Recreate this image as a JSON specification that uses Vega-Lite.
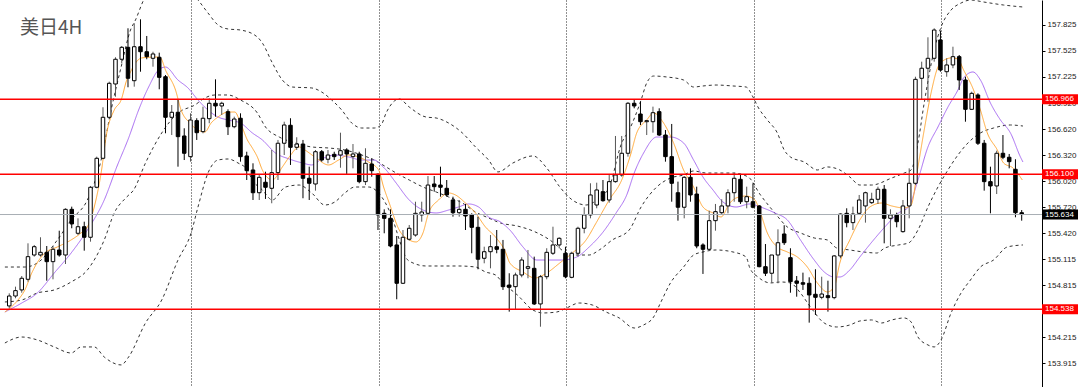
{
"$schema":"https://vega.github.io/schema/vega-lite/v6.json",
"width":1042,"height":387,"autosize":"none",
"padding":{"left":0,"right":38,"top":0,"bottom":0},
"background":"white",
"title":{"text":"美日4H","anchor":"start","frame":"group","dx":20,"dy":42,"fontSize":19,"font":"Noto Sans CJK SC","fontWeight":"normal","color":"#555555"},
"config":{"view":{"stroke":null}},
"datasets":{
"candles":[
{"i":0,"o":154.577,"h":154.723,"l":154.550,"c":154.692},
{"i":1,"o":154.692,"h":154.800,"l":154.666,"c":154.754},
{"i":2,"o":154.762,"h":154.923,"l":154.730,"c":154.897},
{"i":3,"o":154.885,"h":155.301,"l":154.858,"c":155.147},
{"i":4,"o":155.166,"h":155.282,"l":155.147,"c":155.262},
{"i":5,"o":155.166,"h":155.371,"l":155.147,"c":155.197},
{"i":6,"o":155.197,"h":155.270,"l":154.869,"c":155.089},
{"i":7,"o":155.089,"h":155.270,"l":154.885,"c":155.232},
{"i":8,"o":155.224,"h":155.447,"l":155.147,"c":155.166},
{"i":9,"o":155.166,"h":155.706,"l":155.062,"c":155.694},
{"i":10,"o":155.694,"h":155.725,"l":155.475,"c":155.525},
{"i":11,"o":155.417,"h":155.590,"l":155.397,"c":155.493},
{"i":12,"o":155.493,"h":155.551,"l":155.216,"c":155.371},
{"i":13,"o":155.371,"h":155.964,"l":155.320,"c":155.949},
{"i":14,"o":155.949,"h":156.303,"l":155.937,"c":156.284},
{"i":15,"o":156.284,"h":156.874,"l":156.273,"c":156.758},
{"i":16,"o":156.758,"h":157.170,"l":156.735,"c":157.151},
{"i":17,"o":157.143,"h":157.452,"l":156.996,"c":157.429},
{"i":18,"o":157.429,"h":157.582,"l":157.382,"c":157.567},
{"i":19,"o":157.567,"h":157.787,"l":157.105,"c":157.209},
{"i":20,"o":157.181,"h":157.845,"l":157.112,"c":157.574},
{"i":21,"o":157.574,"h":157.891,"l":157.285,"c":157.516},
{"i":22,"o":157.516,"h":157.698,"l":157.429,"c":157.459},
{"i":23,"o":157.440,"h":157.516,"l":157.343,"c":157.490},
{"i":24,"o":157.452,"h":157.505,"l":157.082,"c":157.220},
{"i":25,"o":157.227,"h":157.247,"l":156.573,"c":156.758},
{"i":26,"o":156.758,"h":156.900,"l":156.553,"c":156.816},
{"i":27,"o":156.816,"h":156.958,"l":156.187,"c":156.534},
{"i":28,"o":156.542,"h":156.631,"l":156.264,"c":156.342},
{"i":29,"o":156.303,"h":156.804,"l":156.245,"c":156.727},
{"i":30,"o":156.719,"h":156.747,"l":156.496,"c":156.580},
{"i":31,"o":156.592,"h":156.881,"l":156.573,"c":156.747},
{"i":32,"o":156.742,"h":156.978,"l":156.689,"c":156.920},
{"i":33,"o":156.920,"h":157.197,"l":156.765,"c":156.889},
{"i":34,"o":156.889,"h":156.938,"l":156.785,"c":156.920},
{"i":35,"o":156.823,"h":156.850,"l":156.553,"c":156.649},
{"i":36,"o":156.649,"h":156.765,"l":156.631,"c":156.738},
{"i":37,"o":156.747,"h":156.804,"l":156.245,"c":156.303},
{"i":38,"o":156.311,"h":156.360,"l":156.033,"c":156.141},
{"i":39,"o":156.149,"h":156.226,"l":155.802,"c":155.886},
{"i":40,"o":155.886,"h":156.103,"l":155.802,"c":156.064},
{"i":41,"o":156.007,"h":156.129,"l":155.814,"c":155.949},
{"i":42,"o":155.937,"h":156.380,"l":155.764,"c":156.118},
{"i":43,"o":156.118,"h":156.496,"l":156.033,"c":156.458},
{"i":44,"o":156.458,"h":156.707,"l":156.322,"c":156.669},
{"i":45,"o":156.666,"h":156.747,"l":156.207,"c":156.411},
{"i":46,"o":156.411,"h":156.527,"l":156.380,"c":156.449},
{"i":47,"o":156.449,"h":156.496,"l":155.822,"c":156.053},
{"i":48,"o":156.053,"h":156.187,"l":155.802,"c":155.995},
{"i":49,"o":155.987,"h":156.380,"l":155.910,"c":156.360},
{"i":50,"o":156.360,"h":156.380,"l":156.245,"c":156.264},
{"i":51,"o":156.273,"h":156.380,"l":156.226,"c":156.322},
{"i":52,"o":156.330,"h":156.360,"l":156.264,"c":156.303},
{"i":53,"o":156.322,"h":156.580,"l":156.175,"c":156.372},
{"i":54,"o":156.380,"h":156.400,"l":156.103,"c":156.334},
{"i":55,"o":156.303,"h":156.449,"l":156.168,"c":156.334},
{"i":56,"o":156.334,"h":156.360,"l":155.995,"c":156.014},
{"i":57,"o":156.014,"h":156.400,"l":155.975,"c":156.226},
{"i":58,"o":156.218,"h":156.284,"l":156.071,"c":156.141},
{"i":59,"o":156.100,"h":156.111,"l":155.455,"c":155.629},
{"i":60,"o":155.648,"h":155.694,"l":155.417,"c":155.590},
{"i":61,"o":155.590,"h":155.694,"l":155.255,"c":155.270},
{"i":62,"o":155.282,"h":155.386,"l":154.654,"c":154.839},
{"i":63,"o":154.839,"h":155.455,"l":154.831,"c":155.371},
{"i":64,"o":155.348,"h":155.513,"l":155.332,"c":155.475},
{"i":65,"o":155.397,"h":155.782,"l":155.378,"c":155.648},
{"i":66,"o":155.629,"h":155.782,"l":155.551,"c":155.663},
{"i":67,"o":155.648,"h":156.079,"l":155.629,"c":155.975},
{"i":68,"o":155.987,"h":156.079,"l":155.898,"c":155.956},
{"i":69,"o":155.975,"h":156.187,"l":155.840,"c":155.949},
{"i":70,"o":155.937,"h":156.033,"l":155.840,"c":155.860},
{"i":71,"o":155.802,"h":155.840,"l":155.609,"c":155.655},
{"i":72,"o":155.655,"h":155.802,"l":155.609,"c":155.694},
{"i":73,"o":155.694,"h":155.756,"l":155.455,"c":155.617},
{"i":74,"o":155.629,"h":155.648,"l":155.186,"c":155.486},
{"i":75,"o":155.486,"h":155.609,"l":155.001,"c":155.117},
{"i":76,"o":155.128,"h":155.262,"l":155.070,"c":155.204},
{"i":77,"o":155.204,"h":155.397,"l":155.012,"c":155.262},
{"i":78,"o":155.262,"h":155.455,"l":155.186,"c":155.232},
{"i":79,"o":155.232,"h":155.340,"l":154.762,"c":154.800},
{"i":80,"o":154.819,"h":154.955,"l":154.511,"c":154.793},
{"i":81,"o":154.800,"h":154.962,"l":154.539,"c":154.935},
{"i":82,"o":154.935,"h":155.140,"l":154.908,"c":155.108},
{"i":83,"o":155.012,"h":155.224,"l":154.897,"c":155.031},
{"i":84,"o":155.012,"h":155.147,"l":154.588,"c":154.600},
{"i":85,"o":154.600,"h":154.935,"l":154.337,"c":154.915},
{"i":86,"o":154.915,"h":155.244,"l":154.885,"c":155.197},
{"i":87,"o":155.186,"h":155.493,"l":155.166,"c":155.282},
{"i":88,"o":155.282,"h":155.371,"l":155.244,"c":155.359},
{"i":89,"o":155.186,"h":155.262,"l":154.897,"c":154.915},
{"i":90,"o":154.908,"h":155.204,"l":154.897,"c":155.186},
{"i":91,"o":155.186,"h":155.493,"l":155.147,"c":155.475},
{"i":92,"o":155.475,"h":155.718,"l":155.417,"c":155.629},
{"i":93,"o":155.629,"h":155.995,"l":155.590,"c":155.860},
{"i":94,"o":155.744,"h":156.002,"l":155.706,"c":155.918},
{"i":95,"o":155.898,"h":156.033,"l":155.782,"c":155.794},
{"i":96,"o":155.802,"h":156.103,"l":155.771,"c":156.014},
{"i":97,"o":156.014,"h":156.542,"l":156.002,"c":156.091},
{"i":98,"o":156.091,"h":156.542,"l":156.071,"c":156.342},
{"i":99,"o":156.342,"h":156.935,"l":156.303,"c":156.920},
{"i":100,"o":156.920,"h":156.958,"l":156.862,"c":156.889},
{"i":101,"o":156.796,"h":156.938,"l":156.669,"c":156.707},
{"i":102,"o":156.707,"h":156.727,"l":156.553,"c":156.719},
{"i":103,"o":156.707,"h":156.881,"l":156.580,"c":156.811},
{"i":104,"o":156.823,"h":156.862,"l":156.542,"c":156.553},
{"i":105,"o":156.553,"h":156.611,"l":156.245,"c":156.303},
{"i":106,"o":156.303,"h":156.681,"l":155.782,"c":155.995},
{"i":107,"o":155.886,"h":156.014,"l":155.563,"c":155.718},
{"i":108,"o":155.718,"h":156.079,"l":155.590,"c":156.064},
{"i":109,"o":156.064,"h":156.168,"l":155.782,"c":155.860},
{"i":110,"o":155.871,"h":155.956,"l":155.244,"c":155.270},
{"i":111,"o":155.282,"h":155.301,"l":154.947,"c":155.232},
{"i":112,"o":155.232,"h":155.678,"l":155.216,"c":155.563},
{"i":113,"o":155.563,"h":155.756,"l":155.447,"c":155.667},
{"i":114,"o":155.655,"h":155.810,"l":155.629,"c":155.733},
{"i":115,"o":155.733,"h":155.926,"l":155.648,"c":155.886},
{"i":116,"o":155.886,"h":156.118,"l":155.782,"c":156.053},
{"i":117,"o":156.041,"h":156.103,"l":155.756,"c":155.782},
{"i":118,"o":155.782,"h":155.956,"l":155.706,"c":155.840},
{"i":119,"o":155.782,"h":155.995,"l":155.706,"c":155.718},
{"i":120,"o":155.733,"h":155.744,"l":155.024,"c":155.031},
{"i":121,"o":155.031,"h":155.293,"l":154.923,"c":154.955},
{"i":122,"o":154.955,"h":155.166,"l":154.846,"c":155.166},
{"i":123,"o":155.166,"h":155.463,"l":154.839,"c":155.308},
{"i":124,"o":155.409,"h":155.510,"l":155.282,"c":155.308},
{"i":125,"o":155.135,"h":155.244,"l":154.730,"c":154.858},
{"i":126,"o":154.866,"h":154.923,"l":154.684,"c":154.839},
{"i":127,"o":154.846,"h":154.962,"l":154.762,"c":154.828},
{"i":128,"o":154.839,"h":154.908,"l":154.384,"c":154.704},
{"i":129,"o":154.712,"h":155.001,"l":154.473,"c":154.677},
{"i":130,"o":154.677,"h":154.915,"l":154.654,"c":154.715},
{"i":131,"o":154.696,"h":154.869,"l":154.511,"c":154.673},
{"i":132,"o":154.673,"h":155.166,"l":154.654,"c":155.155},
{"i":133,"o":155.155,"h":155.648,"l":155.128,"c":155.640},
{"i":134,"o":155.648,"h":155.706,"l":155.486,"c":155.540},
{"i":135,"o":155.540,"h":155.725,"l":155.455,"c":155.640},
{"i":136,"o":155.648,"h":155.860,"l":155.629,"c":155.802},
{"i":137,"o":155.733,"h":155.898,"l":155.540,"c":155.886},
{"i":138,"o":155.771,"h":155.886,"l":155.756,"c":155.810},
{"i":139,"o":155.810,"h":155.956,"l":155.756,"c":155.926},
{"i":140,"o":155.926,"h":155.975,"l":155.301,"c":155.590},
{"i":141,"o":155.590,"h":155.694,"l":155.270,"c":155.629},
{"i":142,"o":155.629,"h":155.655,"l":155.486,"c":155.551},
{"i":143,"o":155.436,"h":155.802,"l":155.424,"c":155.733},
{"i":144,"o":155.733,"h":156.168,"l":155.590,"c":155.995},
{"i":145,"o":155.995,"h":157.227,"l":155.975,"c":157.197},
{"i":146,"o":157.209,"h":157.401,"l":156.958,"c":157.325},
{"i":147,"o":157.325,"h":157.683,"l":156.938,"c":157.440},
{"i":148,"o":157.440,"h":157.787,"l":157.401,"c":157.767},
{"i":149,"o":157.652,"h":157.759,"l":157.285,"c":157.305},
{"i":150,"o":157.285,"h":157.440,"l":157.227,"c":157.363},
{"i":151,"o":157.363,"h":157.574,"l":157.325,"c":157.459},
{"i":152,"o":157.459,"h":157.478,"l":157.074,"c":157.189},
{"i":153,"o":157.189,"h":157.227,"l":156.707,"c":156.850},
{"i":154,"o":156.850,"h":157.054,"l":156.842,"c":157.035},
{"i":155,"o":157.016,"h":157.035,"l":156.438,"c":156.458},
{"i":156,"o":156.458,"h":156.496,"l":155.910,"c":156.014},
{"i":157,"o":156.014,"h":156.187,"l":155.648,"c":155.964},
{"i":158,"o":155.964,"h":156.372,"l":155.871,"c":156.342},
{"i":159,"o":156.342,"h":156.553,"l":156.273,"c":156.296},
{"i":160,"o":156.296,"h":156.334,"l":156.168,"c":156.245},
{"i":161,"o":156.157,"h":156.273,"l":155.602,"c":155.655},
{"i":162,"o":155.655,"h":155.686,"l":155.563,"c":155.634}
],
"lines":[
{"s":"up","i":-0.7,"v":155.027},{"s":"up","i":2.5,"v":155.027},{"s":"up","i":4.5,"v":155.074},{"s":"up","i":7.7,"v":155.340},{"s":"up","i":9.9,"v":155.571},{"s":"up","i":12.5,"v":155.802},{"s":"up","i":14.7,"v":156.264},{"s":"up","i":16.3,"v":156.842},{"s":"up","i":17.9,"v":157.339},{"s":"up","i":19.4,"v":157.767},{"s":"up","i":20.2,"v":157.883},{"s":"up","i":21.5,"v":158.114},{"s":"up","i":23.1,"v":158.29},{"s":"up","i":25.5,"v":158.40},{"s":"up","i":27.8,"v":158.29},{"s":"up","i":30.2,"v":158.114},{"s":"up","i":31.8,"v":157.964},{"s":"up","i":33.4,"v":157.825},{"s":"up","i":35.0,"v":157.779},{"s":"up","i":37.0,"v":157.767},{"s":"up","i":39.7,"v":157.686},{"s":"up","i":40.5,"v":157.617},{"s":"up","i":42.1,"v":157.386},{"s":"up","i":43.7,"v":157.189},{"s":"up","i":45.3,"v":157.108},{"s":"up","i":48.4,"v":157.097},{"s":"up","i":50.0,"v":157.050},{"s":"up","i":51.6,"v":156.958},{"s":"up","i":53.2,"v":156.842},{"s":"up","i":54.8,"v":156.692},{"s":"up","i":56.4,"v":156.634},{"s":"up","i":58.4,"v":156.634},{"s":"up","i":59.5,"v":156.669},{"s":"up","i":60.3,"v":156.808},{"s":"up","i":62.4,"v":156.970},{"s":"up","i":64.0,"v":156.877},{"s":"up","i":66.7,"v":156.761},{"s":"up","i":68.3,"v":156.750},{"s":"up","i":70.3,"v":156.692},{"s":"up","i":72.5,"v":156.577},{"s":"up","i":74.6,"v":156.415},{"s":"up","i":76.7,"v":156.264},{"s":"up","i":78.2,"v":156.126},{"s":"up","i":80.6,"v":156.230},{"s":"up","i":83.8,"v":156.311},{"s":"up","i":86.0,"v":156.172},{"s":"up","i":88.1,"v":155.952},{"s":"up","i":90.1,"v":155.802},{"s":"up","i":92.3,"v":155.744},{"s":"up","i":94.4,"v":155.825},{"s":"up","i":96.0,"v":155.952},{"s":"up","i":98.0,"v":156.461},{"s":"up","i":99.2,"v":156.611},{"s":"up","i":101.1,"v":156.958},{"s":"up","i":102.0,"v":157.155},{"s":"up","i":103.1,"v":157.235},{"s":"up","i":105.2,"v":157.224},{"s":"up","i":107.9,"v":157.189},{"s":"up","i":109.5,"v":157.108},{"s":"up","i":111.0,"v":157.120},{"s":"up","i":113.1,"v":157.131},{"s":"up","i":115.8,"v":157.120},{"s":"up","i":117.9,"v":157.108},{"s":"up","i":119.0,"v":156.993},{"s":"up","i":119.8,"v":156.877},{"s":"up","i":121.3,"v":156.727},{"s":"up","i":122.9,"v":156.577},{"s":"up","i":124.0,"v":156.380},{"s":"up","i":125.0,"v":156.299},{"s":"up","i":127.2,"v":156.241},{"s":"up","i":129.3,"v":156.149},{"s":"up","i":130.9,"v":156.184},{"s":"up","i":132.9,"v":156.149},{"s":"up","i":134.5,"v":156.068},{"s":"up","i":136.1,"v":155.975},{"s":"up","i":138.0,"v":155.975},{"s":"up","i":141.2,"v":156.056},{"s":"up","i":143.2,"v":156.114},{"s":"up","i":144.3,"v":156.149},{"s":"up","i":145.4,"v":156.461},{"s":"up","i":146.4,"v":156.923},{"s":"up","i":148.0,"v":157.536},{"s":"up","i":149.1,"v":157.802},{"s":"up","i":150.7,"v":157.998},{"s":"up","i":152.3,"v":158.079},{"s":"up","i":153.8,"v":158.114},{"s":"up","i":155.9,"v":158.091},{"s":"up","i":159.1,"v":158.056},{"s":"up","i":162.2,"v":158.033},
{"s":"mid","i":-0.7,"v":154.623},{"s":"mid","i":2.0,"v":154.646},{"s":"mid","i":4.5,"v":154.727},{"s":"mid","i":7.2,"v":154.762},{"s":"mid","i":9.9,"v":154.854},{"s":"mid","i":12.5,"v":154.993},{"s":"mid","i":15.2,"v":155.340},{"s":"mid","i":16.8,"v":155.652},{"s":"mid","i":18.8,"v":155.837},{"s":"mid","i":19.9,"v":155.918},{"s":"mid","i":21.8,"v":156.230},{"s":"mid","i":24.4,"v":156.577},{"s":"mid","i":27.0,"v":156.808},{"s":"mid","i":29.7,"v":156.900},{"s":"mid","i":31.3,"v":156.981},{"s":"mid","i":32.9,"v":157.016},{"s":"mid","i":35.0,"v":157.016},{"s":"mid","i":37.0,"v":156.958},{"s":"mid","i":39.7,"v":156.808},{"s":"mid","i":41.0,"v":156.646},{"s":"mid","i":43.2,"v":156.530},{"s":"mid","i":45.8,"v":156.461},{"s":"mid","i":48.4,"v":156.415},{"s":"mid","i":51.1,"v":156.403},{"s":"mid","i":53.7,"v":156.380},{"s":"mid","i":56.4,"v":156.322},{"s":"mid","i":58.4,"v":156.264},{"s":"mid","i":60.3,"v":156.184},{"s":"mid","i":61.9,"v":156.114},{"s":"mid","i":64.0,"v":156.033},{"s":"mid","i":66.2,"v":155.952},{"s":"mid","i":68.3,"v":155.895},{"s":"mid","i":70.3,"v":155.837},{"s":"mid","i":72.5,"v":155.767},{"s":"mid","i":74.6,"v":155.663},{"s":"mid","i":76.7,"v":155.594},{"s":"mid","i":78.6,"v":155.536},{"s":"mid","i":81.3,"v":155.501},{"s":"mid","i":83.8,"v":155.444},{"s":"mid","i":86.5,"v":155.340},{"s":"mid","i":89.2,"v":155.189},{"s":"mid","i":90.8,"v":155.166},{"s":"mid","i":92.8,"v":155.166},{"s":"mid","i":94.4,"v":155.224},{"s":"mid","i":96.5,"v":155.340},{"s":"mid","i":99.2,"v":155.455},{"s":"mid","i":101.1,"v":155.721},{"s":"mid","i":103.6,"v":155.952},{"s":"mid","i":105.8,"v":156.056},{"s":"mid","i":107.9,"v":156.091},{"s":"mid","i":109.5,"v":156.137},{"s":"mid","i":111.5,"v":156.114},{"s":"mid","i":113.7,"v":156.114},{"s":"mid","i":115.8,"v":156.114},{"s":"mid","i":118.2,"v":156.070},{"s":"mid","i":120.2,"v":155.860},{"s":"mid","i":122.5,"v":155.652},{"s":"mid","i":124.5,"v":155.490},{"s":"mid","i":126.6,"v":155.421},{"s":"mid","i":128.8,"v":155.363},{"s":"mid","i":130.9,"v":155.340},{"s":"mid","i":132.4,"v":155.247},{"s":"mid","i":134.5,"v":155.224},{"s":"mid","i":136.7,"v":155.201},{"s":"mid","i":138.8,"v":155.189},{"s":"mid","i":140.1,"v":155.247},{"s":"mid","i":142.3,"v":155.282},{"s":"mid","i":143.9,"v":155.305},{"s":"mid","i":145.4,"v":155.455},{"s":"mid","i":147.0,"v":155.721},{"s":"mid","i":148.6,"v":155.952},{"s":"mid","i":150.2,"v":156.149},{"s":"mid","i":151.8,"v":156.322},{"s":"mid","i":153.4,"v":156.461},{"s":"mid","i":155.4,"v":156.577},{"s":"mid","i":157.5,"v":156.634},{"s":"mid","i":160.2,"v":156.669},{"s":"mid","i":162.2,"v":156.657},
{"s":"lo","i":-0.7,"v":154.149},{"s":"lo","i":2.0,"v":154.218},{"s":"lo","i":4.5,"v":154.184},{"s":"lo","i":7.2,"v":154.103},{"s":"lo","i":9.9,"v":154.033},{"s":"lo","i":11.5,"v":154.103},{"s":"lo","i":13.6,"v":154.103},{"s":"lo","i":15.2,"v":153.987},{"s":"lo","i":17.9,"v":153.895},{"s":"lo","i":19.1,"v":153.987},{"s":"lo","i":21.8,"v":154.380},{"s":"lo","i":24.4,"v":154.646},{"s":"lo","i":27.0,"v":155.108},{"s":"lo","i":29.1,"v":155.421},{"s":"lo","i":30.2,"v":155.721},{"s":"lo","i":31.8,"v":156.114},{"s":"lo","i":33.4,"v":156.264},{"s":"lo","i":35.0,"v":156.276},{"s":"lo","i":36.6,"v":156.230},{"s":"lo","i":38.1,"v":156.149},{"s":"lo","i":38.9,"v":156.033},{"s":"lo","i":40.5,"v":155.918},{"s":"lo","i":42.1,"v":155.802},{"s":"lo","i":44.2,"v":155.952},{"s":"lo","i":46.4,"v":155.975},{"s":"lo","i":48.4,"v":155.883},{"s":"lo","i":50.5,"v":155.744},{"s":"lo","i":52.1,"v":155.779},{"s":"lo","i":53.7,"v":155.883},{"s":"lo","i":55.3,"v":155.952},{"s":"lo","i":57.5,"v":155.952},{"s":"lo","i":59.1,"v":155.883},{"s":"lo","i":61.1,"v":155.629},{"s":"lo","i":62.7,"v":155.282},{"s":"lo","i":63.5,"v":155.131},{"s":"lo","i":64.6,"v":155.074},{"s":"lo","i":66.7,"v":155.039},{"s":"lo","i":69.4,"v":155.039},{"s":"lo","i":71.9,"v":155.039},{"s":"lo","i":74.6,"v":155.027},{"s":"lo","i":76.2,"v":154.970},{"s":"lo","i":77.8,"v":154.935},{"s":"lo","i":79.0,"v":154.843},{"s":"lo","i":81.3,"v":154.704},{"s":"lo","i":83.8,"v":154.530},{"s":"lo","i":85.4,"v":154.496},{"s":"lo","i":87.6,"v":154.507},{"s":"lo","i":89.2,"v":154.554},{"s":"lo","i":91.2,"v":154.611},{"s":"lo","i":93.3,"v":154.588},{"s":"lo","i":95.5,"v":154.507},{"s":"lo","i":97.6,"v":154.438},{"s":"lo","i":100.0,"v":154.322},{"s":"lo","i":101.5,"v":154.357},{"s":"lo","i":103.1,"v":154.449},{"s":"lo","i":104.2,"v":154.611},{"s":"lo","i":105.8,"v":154.843},{"s":"lo","i":107.9,"v":155.027},{"s":"lo","i":109.5,"v":155.166},{"s":"lo","i":111.0,"v":155.201},{"s":"lo","i":113.1,"v":155.224},{"s":"lo","i":115.8,"v":155.201},{"s":"lo","i":117.9,"v":155.143},{"s":"lo","i":118.5,"v":155.016},{"s":"lo","i":119.8,"v":154.912},{"s":"lo","i":121.8,"v":154.843},{"s":"lo","i":123.4,"v":154.854},{"s":"lo","i":125.0,"v":154.843},{"s":"lo","i":126.6,"v":154.727},{"s":"lo","i":128.2,"v":154.565},{"s":"lo","i":130.4,"v":154.380},{"s":"lo","i":132.4,"v":154.334},{"s":"lo","i":134.5,"v":154.357},{"s":"lo","i":136.1,"v":154.403},{"s":"lo","i":138.0,"v":154.415},{"s":"lo","i":139.6,"v":154.380},{"s":"lo","i":141.2,"v":154.415},{"s":"lo","i":143.2,"v":154.438},{"s":"lo","i":144.3,"v":154.392},{"s":"lo","i":145.4,"v":154.218},{"s":"lo","i":147.0,"v":154.126},{"s":"lo","i":148.0,"v":154.103},{"s":"lo","i":149.1,"v":154.184},{"s":"lo","i":150.7,"v":154.496},{"s":"lo","i":152.3,"v":154.727},{"s":"lo","i":153.8,"v":154.877},{"s":"lo","i":155.4,"v":155.027},{"s":"lo","i":157.5,"v":155.108},{"s":"lo","i":159.7,"v":155.259},{"s":"lo","i":162.2,"v":155.282},
{"s":"ma2","i":-0.7,"v":154.507},{"s":"ma2","i":2.0,"v":154.611},{"s":"ma2","i":4.5,"v":154.727},{"s":"ma2","i":7.2,"v":154.958},{"s":"ma2","i":9.9,"v":155.189},{"s":"ma2","i":12.5,"v":155.455},{"s":"ma2","i":15.2,"v":155.802},{"s":"ma2","i":17.2,"v":156.184},{"s":"ma2","i":19.1,"v":156.519},{"s":"ma2","i":20.7,"v":156.842},{"s":"ma2","i":22.3,"v":157.108},{"s":"ma2","i":23.9,"v":157.305},{"s":"ma2","i":25.0,"v":157.339},{"s":"ma2","i":27.0,"v":157.189},{"s":"ma2","i":28.6,"v":157.097},{"s":"ma2","i":30.2,"v":156.958},{"s":"ma2","i":31.8,"v":156.842},{"s":"ma2","i":33.4,"v":156.761},{"s":"ma2","i":35.0,"v":156.727},{"s":"ma2","i":37.0,"v":156.692},{"s":"ma2","i":38.9,"v":156.577},{"s":"ma2","i":40.5,"v":156.496},{"s":"ma2","i":42.6,"v":156.345},{"s":"ma2","i":44.8,"v":156.276},{"s":"ma2","i":46.9,"v":156.230},{"s":"ma2","i":48.4,"v":156.207},{"s":"ma2","i":50.0,"v":156.276},{"s":"ma2","i":52.1,"v":156.322},{"s":"ma2","i":54.3,"v":156.299},{"s":"ma2","i":56.4,"v":156.264},{"s":"ma2","i":58.4,"v":156.264},{"s":"ma2","i":59.5,"v":156.207},{"s":"ma2","i":60.3,"v":156.149},{"s":"ma2","i":61.9,"v":155.999},{"s":"ma2","i":64.0,"v":155.802},{"s":"ma2","i":66.2,"v":155.686},{"s":"ma2","i":68.3,"v":155.652},{"s":"ma2","i":70.3,"v":155.686},{"s":"ma2","i":71.9,"v":155.721},{"s":"ma2","i":73.5,"v":155.756},{"s":"ma2","i":75.1,"v":155.721},{"s":"ma2","i":76.7,"v":155.606},{"s":"ma2","i":78.6,"v":155.548},{"s":"ma2","i":80.1,"v":155.455},{"s":"ma2","i":82.2,"v":155.259},{"s":"ma2","i":84.4,"v":155.108},{"s":"ma2","i":86.5,"v":155.108},{"s":"ma2","i":88.5,"v":155.108},{"s":"ma2","i":90.8,"v":155.143},{"s":"ma2","i":92.8,"v":155.259},{"s":"ma2","i":94.9,"v":155.421},{"s":"ma2","i":97.1,"v":155.652},{"s":"ma2","i":98.8,"v":155.860},{"s":"ma2","i":100.0,"v":156.114},{"s":"ma2","i":101.5,"v":156.345},{"s":"ma2","i":103.6,"v":156.530},{"s":"ma2","i":105.8,"v":156.530},{"s":"ma2","i":107.9,"v":156.461},{"s":"ma2","i":109.5,"v":156.264},{"s":"ma2","i":111.0,"v":156.068},{"s":"ma2","i":112.6,"v":155.918},{"s":"ma2","i":114.2,"v":155.779},{"s":"ma2","i":116.3,"v":155.721},{"s":"ma2","i":118.5,"v":155.756},{"s":"ma2","i":120.2,"v":155.721},{"s":"ma2","i":122.5,"v":155.652},{"s":"ma2","i":124.5,"v":155.571},{"s":"ma2","i":126.6,"v":155.340},{"s":"ma2","i":128.8,"v":155.108},{"s":"ma2","i":130.4,"v":154.970},{"s":"ma2","i":132.0,"v":154.912},{"s":"ma2","i":132.9,"v":154.912},{"s":"ma2","i":134.5,"v":154.993},{"s":"ma2","i":136.1,"v":155.143},{"s":"ma2","i":138.3,"v":155.340},{"s":"ma2","i":140.1,"v":155.490},{"s":"ma2","i":142.3,"v":155.652},{"s":"ma2","i":143.9,"v":155.721},{"s":"ma2","i":145.4,"v":156.033},{"s":"ma2","i":147.0,"v":156.415},{"s":"ma2","i":148.6,"v":156.646},{"s":"ma2","i":150.2,"v":156.877},{"s":"ma2","i":151.8,"v":157.074},{"s":"ma2","i":152.7,"v":157.212},{"s":"ma2","i":154.2,"v":157.282},{"s":"ma2","i":155.4,"v":157.189},{"s":"ma2","i":157.0,"v":156.923},{"s":"ma2","i":158.6,"v":156.727},{"s":"ma2","i":160.2,"v":156.577},{"s":"ma2","i":161.8,"v":156.299},{"s":"ma2","i":162.2,"v":156.241},
{"s":"ma1","i":-0.7,"v":154.507},{"s":"ma1","i":1.4,"v":154.646},{"s":"ma1","i":2.5,"v":154.762},{"s":"ma1","i":3.6,"v":154.958},{"s":"ma1","i":5.7,"v":155.189},{"s":"ma1","i":7.7,"v":155.259},{"s":"ma1","i":9.9,"v":155.340},{"s":"ma1","i":11.5,"v":155.421},{"s":"ma1","i":12.5,"v":155.490},{"s":"ma1","i":13.6,"v":155.721},{"s":"ma1","i":14.7,"v":156.114},{"s":"ma1","i":15.6,"v":156.577},{"s":"ma1","i":16.8,"v":156.842},{"s":"ma1","i":17.9,"v":156.958},{"s":"ma1","i":18.8,"v":157.189},{"s":"ma1","i":19.4,"v":157.282},{"s":"ma1","i":20.2,"v":157.386},{"s":"ma1","i":21.2,"v":157.444},{"s":"ma1","i":23.4,"v":157.455},{"s":"ma1","i":24.2,"v":157.444},{"s":"ma1","i":25.0,"v":157.305},{"s":"ma1","i":26.6,"v":157.074},{"s":"ma1","i":27.5,"v":156.842},{"s":"ma1","i":28.9,"v":156.692},{"s":"ma1","i":30.2,"v":156.611},{"s":"ma1","i":31.3,"v":156.588},{"s":"ma1","i":32.3,"v":156.692},{"s":"ma1","i":33.4,"v":156.761},{"s":"ma1","i":35.0,"v":156.819},{"s":"ma1","i":36.1,"v":156.819},{"s":"ma1","i":37.0,"v":156.692},{"s":"ma1","i":38.1,"v":156.496},{"s":"ma1","i":38.9,"v":156.403},{"s":"ma1","i":39.7,"v":156.299},{"s":"ma1","i":40.5,"v":156.149},{"s":"ma1","i":42.1,"v":156.033},{"s":"ma1","i":43.7,"v":156.184},{"s":"ma1","i":44.8,"v":156.299},{"s":"ma1","i":46.4,"v":156.415},{"s":"ma1","i":47.3,"v":156.380},{"s":"ma1","i":48.9,"v":156.299},{"s":"ma1","i":51.1,"v":156.207},{"s":"ma1","i":52.7,"v":156.264},{"s":"ma1","i":54.3,"v":156.322},{"s":"ma1","i":55.9,"v":156.299},{"s":"ma1","i":57.5,"v":156.241},{"s":"ma1","i":59.1,"v":156.149},{"s":"ma1","i":59.9,"v":155.952},{"s":"ma1","i":60.8,"v":155.767},{"s":"ma1","i":62.4,"v":155.455},{"s":"ma1","i":64.0,"v":155.340},{"s":"ma1","i":65.1,"v":155.317},{"s":"ma1","i":66.2,"v":155.421},{"s":"ma1","i":67.1,"v":155.652},{"s":"ma1","i":68.7,"v":155.802},{"s":"ma1","i":70.3,"v":155.883},{"s":"ma1","i":71.4,"v":155.860},{"s":"ma1","i":73.0,"v":155.767},{"s":"ma1","i":74.6,"v":155.652},{"s":"ma1","i":76.2,"v":155.490},{"s":"ma1","i":77.8,"v":155.374},{"s":"ma1","i":79.4,"v":155.201},{"s":"ma1","i":80.1,"v":155.074},{"s":"ma1","i":82.2,"v":154.970},{"s":"ma1","i":84.1,"v":154.900},{"s":"ma1","i":86.0,"v":154.958},{"s":"ma1","i":88.1,"v":155.074},{"s":"ma1","i":90.1,"v":155.189},{"s":"ma1","i":92.3,"v":155.340},{"s":"ma1","i":93.9,"v":155.536},{"s":"ma1","i":96.0,"v":155.802},{"s":"ma1","i":98.0,"v":156.033},{"s":"ma1","i":99.5,"v":156.345},{"s":"ma1","i":100.4,"v":156.577},{"s":"ma1","i":102.0,"v":156.727},{"s":"ma1","i":103.1,"v":156.808},{"s":"ma1","i":104.7,"v":156.692},{"s":"ma1","i":106.3,"v":156.461},{"s":"ma1","i":107.9,"v":156.149},{"s":"ma1","i":109.5,"v":155.952},{"s":"ma1","i":111.0,"v":155.721},{"s":"ma1","i":112.6,"v":155.652},{"s":"ma1","i":113.9,"v":155.606},{"s":"ma1","i":115.3,"v":155.767},{"s":"ma1","i":116.3,"v":155.825},{"s":"ma1","i":117.9,"v":155.848},{"s":"ma1","i":119.3,"v":155.802},{"s":"ma1","i":120.2,"v":155.652},{"s":"ma1","i":121.3,"v":155.421},{"s":"ma1","i":122.9,"v":155.259},{"s":"ma1","i":124.5,"v":155.201},{"s":"ma1","i":126.1,"v":155.143},{"s":"ma1","i":127.7,"v":155.027},{"s":"ma1","i":129.3,"v":154.843},{"s":"ma1","i":130.9,"v":154.739},{"s":"ma1","i":132.0,"v":154.796},{"s":"ma1","i":132.9,"v":155.074},{"s":"ma1","i":134.5,"v":155.340},{"s":"ma1","i":136.1,"v":155.571},{"s":"ma1","i":137.7,"v":155.721},{"s":"ma1","i":139.6,"v":155.767},{"s":"ma1","i":141.2,"v":155.733},{"s":"ma1","i":143.2,"v":155.710},{"s":"ma1","i":144.3,"v":155.744},{"s":"ma1","i":145.4,"v":156.184},{"s":"ma1","i":146.4,"v":156.611},{"s":"ma1","i":147.5,"v":157.039},{"s":"ma1","i":148.6,"v":157.339},{"s":"ma1","i":149.6,"v":157.420},{"s":"ma1","i":150.7,"v":157.444},{"s":"ma1","i":151.8,"v":157.432},{"s":"ma1","i":152.7,"v":157.305},{"s":"ma1","i":154.3,"v":157.074},{"s":"ma1","i":155.4,"v":156.842},{"s":"ma1","i":156.5,"v":156.577},{"s":"ma1","i":158.1,"v":156.380},{"s":"ma1","i":159.1,"v":156.230},{"s":"ma1","i":160.6,"v":156.172},{"s":"ma1","i":162.1,"v":156.033}
],
"levels":[
{"v":156.966,"k":"r"},{"v":156.100,"k":"r"},{"v":154.538,"k":"r"},{"v":155.634,"k":"g"}
]
},
"encoding":{
"x":{"type":"quantitative","scale":{"domain":[-0.68,164.45],"nice":false,"zero":false},
"axis":{"values":[29.15,59.15,89.15,119.15,149.15],"labels":false,"ticks":false,"domain":false,"title":null,"grid":true,"gridDash":[1,2],"gridColor":"#222","gridWidth":1,"gridOpacity":1}},
"y":{"type":"quantitative","scale":{"domain":[153.64,158.114],"nice":false,"zero":false},
"axis":{"orient":"right","title":null,"grid":false,"values":[157.825,157.525,157.225,156.920,156.620,156.320,156.020,155.720,155.420,155.115,154.815,154.215,153.915],"format":".3f","labelFont":"Liberation Sans","labelFontSize":8,"labelColor":"#222","labelPadding":2,"tickSize":3,"tickColor":"#000","domainColor":"#000","domainWidth":1,"labelBound":false}}
},
"layer":[
{"data":{"name":"lines"},"mark":{"type":"line","clip":true,"interpolate":"monotone","strokeWidth":1},
"encoding":{"x":{"field":"i"},"y":{"field":"v"},
"color":{"field":"s","type":"nominal","legend":null,"scale":{"domain":["up","mid","lo","ma2","ma1"],"range":["#333","#333","#333","#a86cf2","#ffa836"]}},
"strokeDash":{"field":"s","type":"nominal","legend":null,"scale":{"domain":["up","mid","lo","ma2","ma1"],"range":[[3,3],[3,3],[3,3],[1,0],[1,0]]}}}},
{"data":{"name":"candles"},"mark":{"type":"rule","strokeWidth":1},
"encoding":{"x":{"field":"i"},"y":{"field":"l"},"y2":{"field":"h"},"stroke":{"condition":{"test":"datum.c >= datum.o","value":"#555"},"value":"#000"}}},
{"data":{"name":"candles"},"mark":{"type":"bar","width":3.5,"stroke":"#000","strokeWidth":1,"minBandSize":1},
"encoding":{"x":{"field":"i"},"y":{"field":"o"},"y2":{"field":"c"},"fill":{"condition":{"test":"datum.c >= datum.o","value":"#ffffff"},"value":"#000000"}}},
{"data":{"name":"levels"},"mark":{"type":"rule"},
"encoding":{"y":{"field":"v"},"x":null,"stroke":{"condition":{"test":"datum.k == 'r'","value":"#ff0000"},"value":"#a8aeb4"},"strokeWidth":{"condition":{"test":"datum.k == 'g'","value":1},"value":1.6}}},
{"data":{"name":"levels"},"mark":{"type":"rect","clip":false,"yOffset":-5,"y2Offset":5,"x2Offset":36},
"encoding":{"x":{"value":"width"},"x2":{"value":"width"},"y":{"field":"v"},"y2":{"field":"v"},"fill":{"condition":{"test":"datum.k == 'r'","value":"#ff0000"},"value":"#000000"}}},
{"data":{"name":"levels"},"mark":{"type":"text","clip":false,"align":"left","baseline":"middle","dx":3,"font":"Liberation Sans","fontSize":8,"color":"#ffffff"},
"encoding":{"x":{"value":"width"},"y":{"field":"v"},"text":{"field":"v","format":".3f"}}}
]
}
